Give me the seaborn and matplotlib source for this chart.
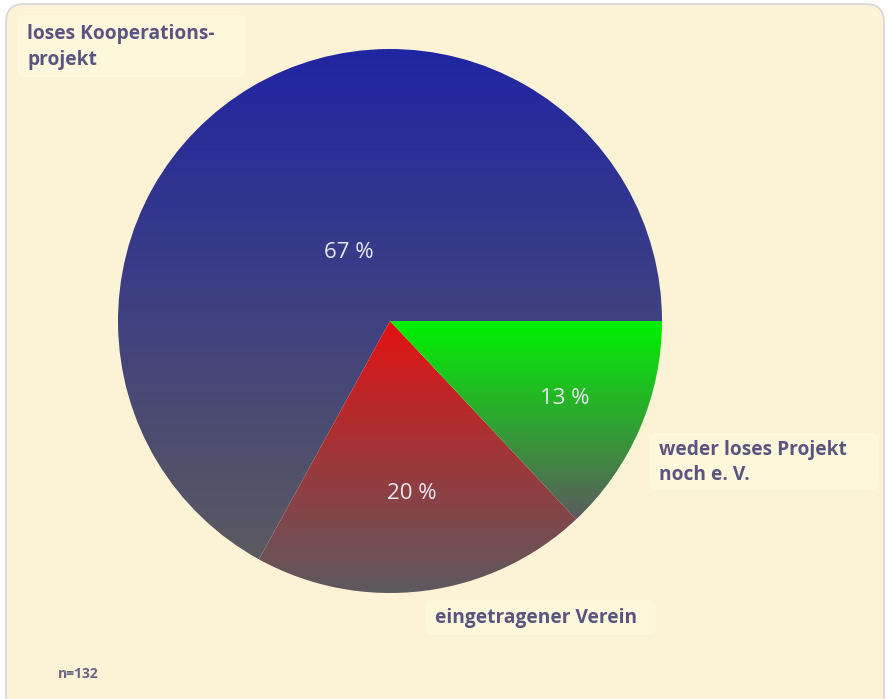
import numpy as np
import matplotlib
matplotlib.use("Agg")
import matplotlib.pyplot as plt
import seaborn as sns
from matplotlib.patches import FancyBboxPatch
from matplotlib.colors import to_rgb

# Organisation form of the projects (share of answers, %)
categories = ["loses Kooperations-\nprojekt", "eingetragener Verein", "weder loses Projekt\nnoch e. V."]
shares = [67, 20, 13]
pct_labels = ["67 %", "20 %", "13 %"]
top_colors = ["#2025a3", "#e31212", "#00f200"]
sample_note = "n=132"

sns.set_theme(style="white")
plt.rcParams["font.family"] = ["Open Sans", "DejaVu Sans"]

W, H = 888, 699
fig = plt.figure(figsize=(W / 100, H / 100), dpi=100, facecolor="white")
ax = fig.add_axes([0, 0, 1, 1])

# cream panel with rounded corners
ax.add_patch(FancyBboxPatch((6, -30), 878, 725,
                            boxstyle="round,pad=0,rounding_size=18",
                            fc="#fcf2d5", ec="#d6d4de", lw=1.2, zorder=0))

cx, cy, r = 390, H - 321, 272
wedges, _ = ax.pie(shares, startangle=0, counterclock=True, center=(cx, cy),
                   radius=r, colors=top_colors,
                   wedgeprops=dict(linewidth=0))
ax.set_xlim(0, W)
ax.set_ylim(0, H)
ax.axis("off")

# vertical gradient inside every slice: pure colour at the top, grey at the bottom
bottom_grey = np.array(to_rgb("#5c5a60"))
for w, col in zip(wedges, top_colors):
    ext = w.get_path().get_extents()
    top = np.array(to_rgb(col))
    t = np.linspace(0, 1, 256)[:, None]
    grad = bottom_grey * (1 - t) + top * t
    img = np.repeat(grad[:, None, :], 2, axis=1)
    w.set_facecolor("none")
    im = ax.imshow(img, extent=(ext.x0, ext.x1, ext.y0, ext.y1), origin="lower",
                   aspect="auto", interpolation="bilinear", zorder=2)
    im.set_clip_path(w)
ax.set_xlim(0, W)
ax.set_ylim(0, H)

# percentage labels placed along each slice's bisector
label_dist = [0.30, 0.63, 0.70]
for w, txt, d in zip(wedges, pct_labels, label_dist):
    ang = np.deg2rad((w.theta1 + w.theta2) / 2)
    ax.text(cx + d * r * np.cos(ang), cy + d * r * np.sin(ang) - 2, txt,
            ha="center", va="center", fontsize=16, color="#e8e8f2", zorder=5)

# category labels in light boxes
label_boxes = [(18, 15, 227, 62), (426, 600, 229, 35), (650, 433, 228, 57)]
text_col = "#5b5480"
for (bx, by, bw, bh), lab in zip(label_boxes, categories):
    ax.add_patch(FancyBboxPatch((bx, H - by - bh), bw, bh,
                                boxstyle="round,pad=0,rounding_size=5",
                                fc="#fdf7dc", ec="none", zorder=3))
    ax.text(bx + 9, H - by - bh / 2 - 1, lab, ha="left", va="center",
            fontsize=13.8, fontweight="bold", color=text_col,
            linespacing=1.4, zorder=4)

ax.text(58, H - 674, sample_note, ha="left", va="center", fontsize=10,
        fontweight="bold", color="#6b6585", zorder=4)

fig.savefig("out.png", dpi=100, facecolor="white")
